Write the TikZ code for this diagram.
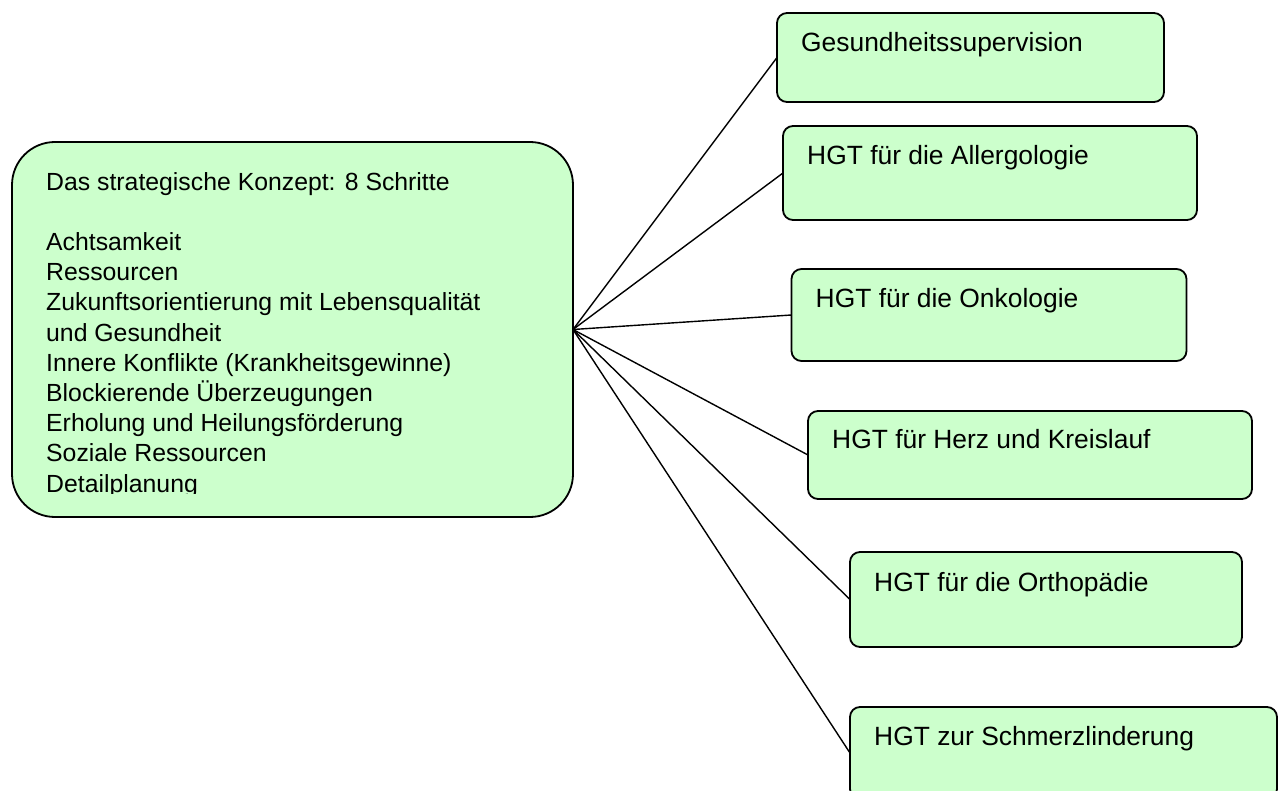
\documentclass[tikz,border=0pt]{standalone}
\usepackage{fontspec}
\setmainfont{Liberation Sans}
\usetikzlibrary{positioning}

\definecolor{boxgreen}{HTML}{CCFFCC}

\tikzset{
  hauptbox/.style={draw,line width=1.8pt,fill=boxgreen,rounded corners=43pt,
    outer sep=0pt,inner sep=0pt},
  zielbox/.style={draw,line width=1.8pt,fill=boxgreen,rounded corners=10pt,
    outer sep=0pt,inner sep=0pt},
  zieltext/.style={anchor=base west,inner sep=0pt,font=\fontsize{26.4}{31}\selectfont},
  verbindung/.style={line width=1.4pt}
}

\begin{document}
\begin{tikzpicture}[x=1pt,y=-1pt]
\useasboundingbox (0,0) rectangle (1280,791);
\clip (0,0) rectangle (1280,791);

% central concept
\node[hauptbox,minimum width=561pt,minimum height=375pt] (konzept) at (292.5,329.5) {};
\begin{scope}
\clip (12,142) rectangle (573,493);
% base of the last line sits at 492
\node[anchor=base west,align=left,inner sep=0pt,font=\fontsize{24.8}{30.2}\selectfont] (schritte) at (46,492)
{Das strategische Konzept: 8 Schritte\\[30.2pt]
Achtsamkeit\\
Ressourcen\\
Zukunftsorientierung mit Lebensqualität\\
und Gesundheit\\
Innere Konflikte (Krankheitsgewinne)\\
Blockierende Überzeugungen\\
Erholung und Heilungsförderung\\
Soziale Ressourcen\\
Detailplanung};
\end{scope}

% target boxes
\node[zielbox,minimum width=387pt,minimum height=89pt] (gesund) at (970.5,57.5) {};
\node[zielbox,minimum width=414pt,minimum height=94pt] (allergo) at (990,173) {};
\node[zielbox,minimum width=395pt,minimum height=92pt] (onko) at (989,315) {};
\node[zielbox,minimum width=444pt,minimum height=88pt] (herz) at (1030,455) {};
\node[zielbox,minimum width=392pt,minimum height=95pt] (ortho) at (1046,599.5) {};
\node[zielbox,minimum width=427pt,minimum height=92pt] (schmerz) at (1063.5,753) {};

\node[zieltext] (gesundtext) at ([shift={(24,39)}]gesund.north west) {Gesundheitssupervision};
\node[zieltext] (allergotext) at ([shift={(24,39)}]allergo.north west) {HGT für die Allergologie};
\node[zieltext] (onkotext) at ([shift={(24,39)}]onko.north west) {HGT für die Onkologie};
\node[zieltext] (herztext) at ([shift={(24,37)}]herz.north west) {HGT für Herz und Kreislauf};
\node[zieltext] (orthotext) at ([shift={(24,39.5)}]ortho.north west) {HGT für die Orthopädie};
\node[zieltext] (schmerztext) at ([shift={(24,38.5)}]schmerz.north west) {HGT zur Schmerzlinderung};

% connectors
\foreach \ziel in {gesund,allergo,onko,herz,ortho,schmerz}
  \draw[verbindung] (konzept.east) -- (\ziel.west);

\end{tikzpicture}
\end{document}
